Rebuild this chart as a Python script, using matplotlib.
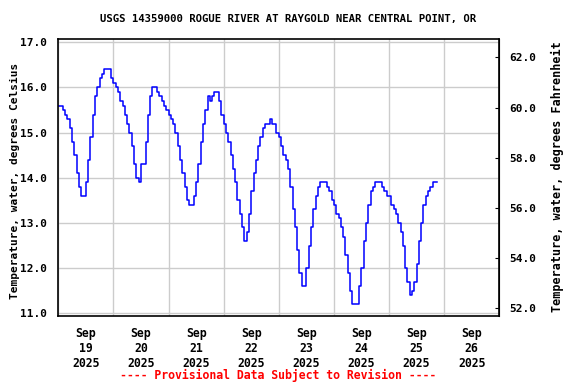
import matplotlib
matplotlib.use("Agg")
import matplotlib.pyplot as plt
import pandas as pd

title = "USGS 14359000 ROGUE RIVER AT RAYGOLD NEAR CENTRAL POINT, OR"
start = "2025-09-19 00:00"

# hourly water temperature, deg C
temp_sep19 = [15.6, 15.6, 15.5, 15.4, 15.3, 15.1, 14.8, 14.5, 14.1, 13.8, 13.6, 13.6,
              13.9, 14.4, 14.9, 15.4, 15.8, 16.0, 16.2, 16.3, 16.4, 16.4, 16.4, 16.2]
temp_sep20 = [16.1, 16.0, 15.9, 15.7, 15.6, 15.4, 15.2, 15.0, 14.7, 14.3, 14.0, 13.9,
              14.3, 14.3, 14.8, 15.4, 15.8, 16.0, 16.0, 15.9, 15.8, 15.7, 15.6, 15.5]
temp_sep21 = [15.4, 15.3, 15.2, 15.0, 14.7, 14.4, 14.1, 13.8, 13.5, 13.4, 13.4, 13.6,
              13.9, 14.3, 14.8, 15.2, 15.5, 15.8, 15.7, 15.8, 15.9, 15.9, 15.7, 15.4]
temp_sep22 = [15.2, 15.0, 14.8, 14.5, 14.2, 13.9, 13.5, 13.2, 12.9, 12.6, 12.8, 13.2,
              13.7, 14.1, 14.4, 14.7, 14.9, 15.1, 15.2, 15.2, 15.3, 15.2, 15.2, 15.0]
temp_sep23 = [14.9, 14.7, 14.5, 14.4, 14.2, 13.8, 13.3, 12.9, 12.4, 11.9, 11.6, 11.6,
              12.0, 12.5, 12.9, 13.3, 13.6, 13.8, 13.9, 13.9, 13.9, 13.8, 13.7, 13.5]
temp_sep24 = [13.4, 13.2, 13.1, 12.9, 12.7, 12.3, 11.9, 11.5, 11.2, 11.2, 11.2, 11.6,
              12.0, 12.6, 13.0, 13.4, 13.7, 13.8, 13.9, 13.9, 13.9, 13.8, 13.7, 13.6]
temp_sep25 = [13.6, 13.4, 13.3, 13.2, 13.0, 12.8, 12.5, 12.0, 11.7, 11.4, 11.5, 11.7,
              12.1, 12.6, 13.0, 13.4, 13.6, 13.7, 13.8, 13.9, 13.9, 13.9]

temps = temp_sep19 + temp_sep20 + temp_sep21 + temp_sep22 + temp_sep23 + temp_sep24 + temp_sep25
times = pd.date_range(start, periods=len(temps), freq="h")

days = pd.date_range("2025-09-19", "2025-09-27", freq="D")
day_centers = days[:-1] + pd.Timedelta(hours=12)
day_labels = ["Sep\n%d\n2025" % d.day for d in day_centers]

c_ticks = [11.0, 12.0, 13.0, 14.0, 15.0, 16.0, 17.0]
f_ticks = [52.0, 54.0, 56.0, 58.0, 60.0, 62.0]

plt.rcParams["font.family"] = "DejaVu Sans Mono"
plt.rcParams["font.weight"] = "bold"
plt.rcParams["font.size"] = 8


def c2f(c):
    return c * 9.0 / 5.0 + 32.0


def f2c(f):
    return (f - 32.0) * 5.0 / 9.0


def main():
    fig = plt.figure(figsize=(5.76, 3.84), dpi=100)
    ax = fig.add_axes([0.1012, 0.1779, 0.7656, 0.7198])

    ax.plot(times, temps, color="#0000ff", lw=1.1, drawstyle="steps-post")

    ax.set_xlim(days[0], days[-1])
    ax.set_ylim(10.947, 17.066)

    ax.set_xticks(days)
    ax.set_xticklabels([""] * len(days))
    ax.set_xticks(day_centers, minor=True)
    ax.set_xticklabels(day_labels, minor=True, linespacing=1.2, fontsize=8.3)
    ax.tick_params(axis="x", which="both", length=0)
    ax.tick_params(axis="x", which="minor", pad=8)

    ax.set_yticks(c_ticks)
    ax.set_yticklabels(["%.1f" % v for v in c_ticks])
    ax.tick_params(axis="y", length=0, pad=8)

    ax.grid(True, which="major", color="#cccccc", lw=1)
    ax.set_axisbelow(True)
    for s in ax.spines.values():
        s.set_linewidth(1.2)

    sec = ax.secondary_yaxis("right", functions=(c2f, f2c))
    sec.set_yticks(f_ticks)
    sec.set_yticklabels(["%.1f" % v for v in f_ticks])
    sec.tick_params(direction="in", length=3, pad=7)

    fig.text(0.0266, 0.528, "Temperature, water, degrees Celsius",
             rotation=90, ha="center", va="center")
    fig.text(0.967, 0.54, "Temperature, water, degrees Fahrenheit",
             rotation=90, ha="center", va="center", fontsize=8.5)

    fig.text(0.5, 0.95, title, ha="center", va="center", fontsize=7.7)
    fig.text(0.482, 0.023, "---- Provisional Data Subject to Revision ----",
             color="red", ha="center", va="center", fontsize=8.3)

    fig.savefig("out.png", dpi=100)


if __name__ == "__main__":
    main()
